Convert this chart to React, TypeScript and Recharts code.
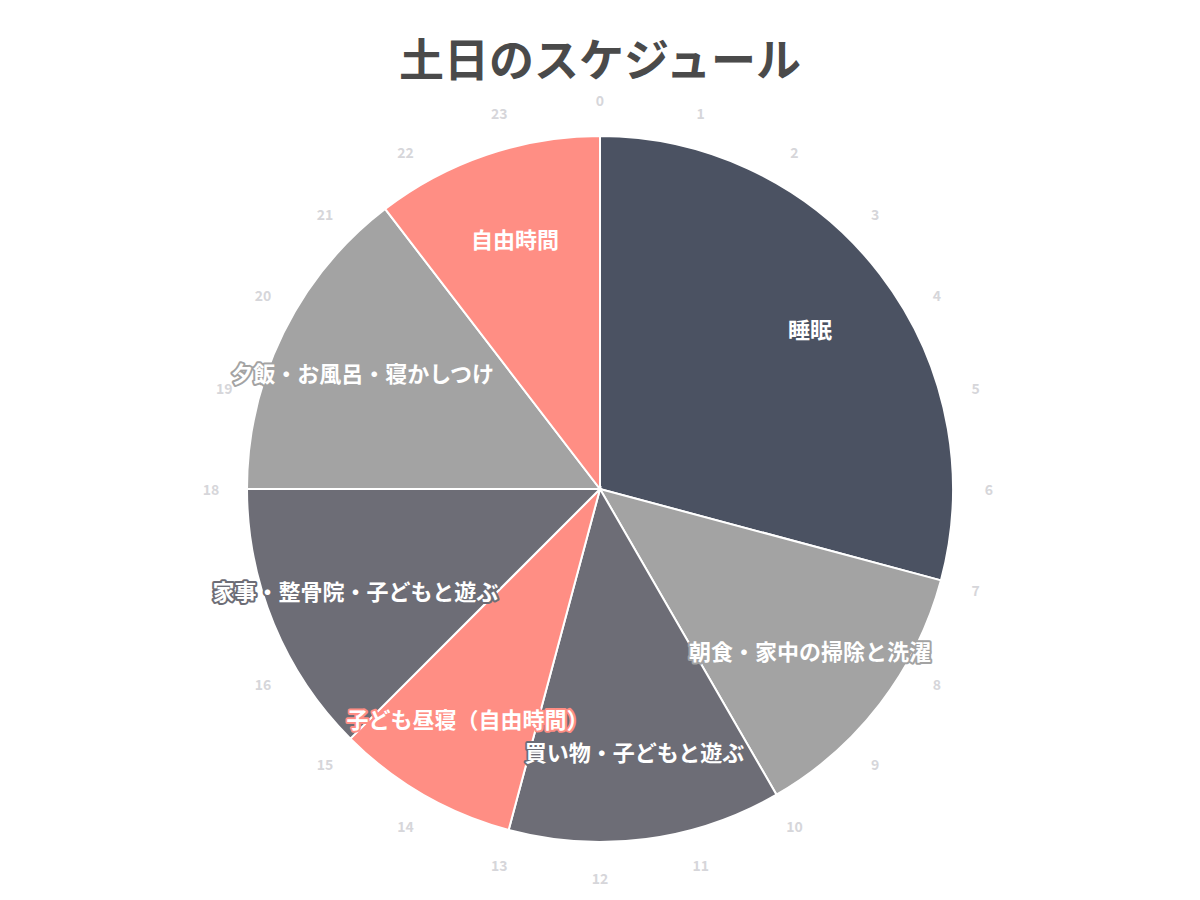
import React from 'react'
import { PieChart, Pie, Cell } from 'recharts'

const activities = ['睡眠', '朝食・家中の掃除と洗濯', '買い物・子どもと遊ぶ', '子ども昼寝（自由時間）', '家事・整骨院・子どもと遊ぶ', '夕飯・お風呂・寝かしつけ', '自由時間']
const hours = [7, 3, 3, 2, 3, 3.5, 2.5]
const colors = ['#4b5262', '#a3a3a3', '#6d6d76', '#ff8e84', '#6d6d76', '#a3a3a3', '#ff8e84']
const hourTicks = Array.from({ length: 24 }, (_, i) => String(i))

const data = activities.map((name, i) => ({ name, value: hours[i] }))
const tickData = hourTicks.map((name) => ({ name, value: 1 }))

if (typeof document !== 'undefined') document.body.style.margin = '0'

const RAD = Math.PI / 180
const FONT = '"Noto Sans CJK JP", "Noto Sans", sans-serif'

const SliceLabel = (props: any) => {
  const { cx, cy, midAngle, outerRadius, index } = props
  const r = outerRadius * 0.75
  const x = cx + r * Math.cos(-midAngle * RAD)
  const y = cy + r * Math.sin(-midAngle * RAD)
  return (
    <text
      x={x}
      y={y}
      textAnchor="middle"
      dominantBaseline="central"
      fill="#ffffff"
      stroke={colors[index]}
      strokeWidth={4}
      strokeLinejoin="round"
      paintOrder="stroke"
      fontSize={22}
      fontWeight={700}
      fontFamily={FONT}
    >
      {activities[index]}
    </text>
  )
}

const HourLabel = (props: any) => {
  const { cx, cy, midAngle, index } = props
  const r = 389
  const x = cx + r * Math.cos(-midAngle * RAD)
  const y = cy + r * Math.sin(-midAngle * RAD)
  return (
    <text
      x={x}
      y={y}
      textAnchor="middle"
      dominantBaseline="central"
      fill="#d6d6da"
      fontSize={14}
      fontWeight={700}
      fontFamily={FONT}
    >
      {hourTicks[index]}
    </text>
  )
}

export default function App() {
  return (
    <div style={{ position: 'relative', width: 1200, height: 900, background: '#fff' }}>
      <div
        style={{
          position: 'absolute',
          top: 26,
          left: 0,
          width: 1200,
          textAlign: 'center',
          fontSize: 45,
          fontWeight: 700,
          color: '#4a4a4a',
          fontFamily: FONT,
          lineHeight: '64px',
        }}
      >
        土日のスケジュール
      </div>
      <PieChart width={1200} height={900} margin={{ top: 0, right: 0, bottom: 0, left: 0 }}>
        <Pie
          data={tickData}
          dataKey="value"
          cx={600}
          cy={489}
          outerRadius={353}
          startAngle={97.5}
          endAngle={-262.5}
          fill="transparent"
          stroke="none"
          label={HourLabel}
          labelLine={false}
          isAnimationActive={false}
        />
        <Pie
          data={data}
          dataKey="value"
          cx={600}
          cy={489}
          outerRadius={353}
          startAngle={90}
          endAngle={-270}
          stroke="#ffffff"
          strokeWidth={2}
          label={SliceLabel}
          labelLine={false}
          isAnimationActive={false}
        >
          {data.map((d, i) => (
            <Cell key={d.name} fill={colors[i]} />
          ))}
        </Pie>
      </PieChart>
    </div>
  )
}
